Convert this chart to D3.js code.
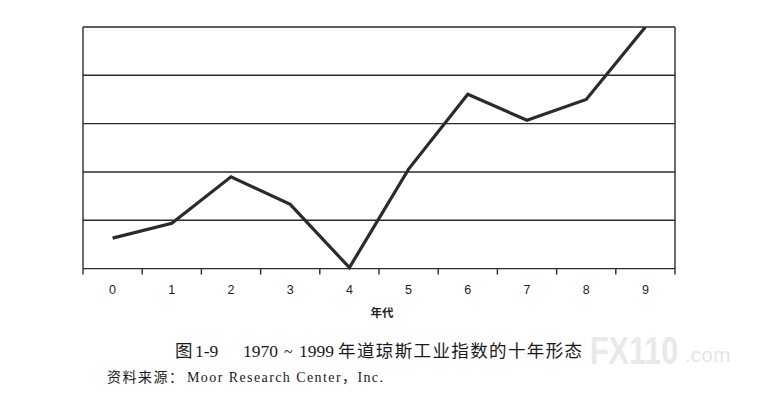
<!DOCTYPE html>
<html>
<head>
<meta charset="utf-8">
<script src="https://cdn.jsdelivr.net/npm/d3@7/dist/d3.min.js"></script>
<style>
  html, body { margin: 0; padding: 0; background: #ffffff; }
  svg { display: block; }
</style>
</head>
<body>
<svg id="chart" width="773" height="404"></svg>
<script>
// ---- data ----
const decadeYears = [0, 1, 2, 3, 4, 5, 6, 7, 8, 9];
const xTickLabels = ["0", "1", "2", "3", "4", "5", "6", "7", "8", "9"];
const indexPattern = [0.63, 0.94, 1.90, 1.33, 0.02, 2.06, 3.61, 3.07, 3.50, 5.0];
const gridLevels = [0, 1, 2, 3, 4, 5];
const xAxisTitle = "年代";
const captionParts = ["图", "1-9", "1970", "~", "1999", "年道琼斯工业指数的十年形态"];
const sourceParts = ["资料来源：", "Moor Research Center，Inc."];
const watermarkParts = ["FX110", ".com"];

(function () {
// ---- layout ----
const svg = d3.select("#chart");
const pL = 83, pR = 675, pT = 27, pB = 268.6;

const x = d3.scaleBand().domain(decadeYears).range([pL, pR]).padding(0);
const y = d3.scaleLinear().domain([0, 5]).range([pB, pT]);

const ink = "#2b2b2b";

// watermark (drawn first, very light)
svg.append("text")
  .attr("transform", "translate(590,364) scale(1,1.28)")
  .attr("font-family", "Liberation Sans, Arial, sans-serif")
  .attr("font-weight", "bold").attr("font-size", 30.5)
  .attr("fill", "#e9e9e9")
  .text(watermarkParts[0]);
svg.append("text")
  .attr("x", 685).attr("y", 362)
  .attr("font-family", "Liberation Sans, Arial, sans-serif")
  .attr("font-size", 21)
  .attr("fill", "#e6e6e6")
  .text(watermarkParts[1]);

// grid lines (including top frame and bottom axis line)
svg.append("g").selectAll("line").data(gridLevels).join("line")
  .attr("x1", pL).attr("x2", pR)
  .attr("y1", d => y(d)).attr("y2", d => y(d))
  .attr("stroke", ink).attr("stroke-width", 1.4);

// side frame lines
svg.append("line").attr("x1", pL).attr("x2", pL).attr("y1", pT).attr("y2", pB)
  .attr("stroke", ink).attr("stroke-width", 1.4);
svg.append("line").attr("x1", pR).attr("x2", pR).attr("y1", pT).attr("y2", pB)
  .attr("stroke", ink).attr("stroke-width", 1.4);

// x axis ticks at band boundaries
const boundaries = decadeYears.map(d => x(d)).concat([pR]);
svg.append("g").selectAll("line").data(boundaries).join("line")
  .attr("x1", d => d).attr("x2", d => d)
  .attr("y1", pB).attr("y2", pB + 6)
  .attr("stroke", ink).attr("stroke-width", 1.4);

// tick labels
svg.append("g").selectAll("text").data(decadeYears).join("text")
  .attr("x", d => x(d) + x.bandwidth() / 2)
  .attr("y", 293.5)
  .attr("text-anchor", "middle")
  .attr("font-family", "Liberation Sans, Arial, sans-serif")
  .attr("font-size", 12.5)
  .attr("fill", "#1e1e1e")
  .text((d, i) => xTickLabels[i]);

// axis title
svg.append("text")
  .attr("x", 382).attr("y", 317)
  .attr("text-anchor", "middle")
  .attr("font-family", "Noto Sans CJK SC, sans-serif")
  .attr("font-weight", "bold")
  .attr("font-size", 11.5)
  .attr("fill", "#222")
  .text(xAxisTitle);

// clip for line
svg.append("clipPath").attr("id", "plotclip")
  .append("rect").attr("x", pL).attr("y", pT).attr("width", pR - pL).attr("height", pB - pT + 2);

const line = d3.line()
  .x((d, i) => x(decadeYears[i]) + x.bandwidth() / 2)
  .y(d => y(d));

svg.append("path")
  .datum(indexPattern)
  .attr("clip-path", "url(#plotclip)")
  .attr("d", line)
  .attr("fill", "none")
  .attr("stroke", ink)
  .attr("stroke-width", 3.2)
  .attr("stroke-linejoin", "miter");

// caption
const capX = [175, 195, 243, 284, 299, 338];
const capSize = [17.5, 17.5, 17.5, 16, 17.5, 17.5];
const capLen = [null, null, null, null, null, 244];
const cap = svg.append("text")
  .attr("y", 357)
  .attr("font-family", "Liberation Serif, Noto Sans CJK SC, serif")
  .attr("font-size", 17.5)
  .attr("fill", "#1a1a1a");
captionParts.forEach((t, i) => {
  const s = cap.append("tspan").attr("x", capX[i]).attr("y", 357)
    .attr("font-size", capSize[i]).text(t);
  if (capLen[i]) s.attr("textLength", capLen[i]).attr("lengthAdjust", "spacing");
});

// source
const src = svg.append("text")
  .attr("font-family", "Liberation Serif, Noto Sans CJK SC, serif")
  .attr("font-size", 14)
  .attr("fill", "#1a1a1a");
src.append("tspan").attr("x", 107).attr("y", 382)
  .attr("textLength", 76).attr("lengthAdjust", "spacing").text(sourceParts[0]);
src.append("tspan").attr("x", 187).attr("y", 382)
  .attr("textLength", 196).attr("lengthAdjust", "spacing").text(sourceParts[1]);
})();
</script>
</body>
</html>
